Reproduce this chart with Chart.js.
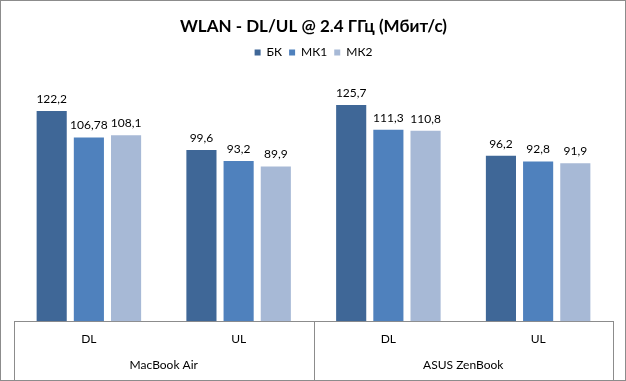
<!DOCTYPE html>
<html>
<head>
<meta charset="utf-8">
<script src="https://cdn.jsdelivr.net/npm/chart.js@4.4.0/dist/chart.umd.min.js"></script>
<style>
body { margin: 0; background: #fff; }
#wrap { width: 626px; height: 381px; box-sizing: border-box; border: 1px solid #8c8c8c; background: #fff; }
canvas { display: block; }
</style>
</head>
<body>
<div id="wrap"><canvas id="chart" width="624" height="379"></canvas></div>
<script>
var labels = ['DL', 'UL', 'DL', 'UL'];
var devices = ['MacBook Air', 'ASUS ZenBook'];
var seriesNames = ['БК', 'МК1', 'МК2'];
var bk = [122.2, 99.6, 125.7, 96.2];
var mk1 = [106.78, 93.2, 111.3, 92.8];
var mk2 = [108.1, 89.9, 110.8, 91.9];

// value labels above the bars
var valueLabels = {
    id: 'valueLabels',
    afterDatasetsDraw: function (chart) {
        var ctx = chart.ctx;
        ctx.save();
        ctx.font = '12px Lato';
        ctx.fillStyle = '#000';
        ctx.textAlign = 'center';
        ctx.textBaseline = 'bottom';
        chart.data.datasets.forEach(function (ds, i) {
            chart.getDatasetMeta(i).data.forEach(function (bar, j) {
                ctx.fillText(String(ds.data[j]).replace('.', ','), bar.x, bar.y - 6);
            });
        });
        ctx.restore();
    }
};

// vertical separators between device groups
var separators = {
    id: 'separators',
    afterDraw: function (chart) {
        var xs = chart.scales.x;
        var step = (xs.right - xs.left) / labels.length;
        var ctx = chart.ctx;
        ctx.save();
        ctx.strokeStyle = '#8c8c8c';
        ctx.lineWidth = 1;
        [0, 2, 4].forEach(function (k) {
            var x = Math.round(xs.left + k * step) + 0.5;
            ctx.beginPath();
            ctx.moveTo(x, chart.chartArea.bottom);
            ctx.lineTo(x, chart.height);
            ctx.stroke();
        });
        ctx.restore();
    }
};

var ctx1 = document.getElementById('chart').getContext('2d');
var chart1 = new Chart(ctx1, {
    type: 'bar',
    data: {
        labels: labels,
        datasets: [
            { label: seriesNames[0], data: bk, backgroundColor: '#3f6797' },
            { label: seriesNames[1], data: mk1, backgroundColor: '#4f81bd' },
            { label: seriesNames[2], data: mk2, backgroundColor: '#a7b9d6' }
        ]
    },
    options: {
        responsive: false,
        animation: false,
        devicePixelRatio: 1,
        categoryPercentage: 0.745,
        barPercentage: 0.81,
        layout: { padding: { left: 13, right: 12, top: 0, bottom: 8 } },
        plugins: {
            title: {
                display: true,
                text: 'WLAN - DL/UL @ 2.4 ГГц (Мбит/с)',
                color: '#000',
                font: { family: 'Lato', size: 17, weight: 'bold' },
                padding: { top: 15, bottom: 3 }
            },
            legend: {
                labels: {
                    boxWidth: 6,
                    boxHeight: 6,
                    padding: 7,
                    color: '#000',
                    font: { family: 'Lato', size: 12 }
                }
            },
            tooltip: { enabled: false }
        },
        scales: {
            x: {
                grid: { display: false, drawTicks: false },
                border: { display: true, color: '#8c8c8c' },
                ticks: { color: '#000', padding: 11, font: { family: 'Lato', size: 12 } }
            },
            x2: {
                type: 'category',
                labels: devices,
                position: 'bottom',
                offset: true,
                grid: { display: false, drawTicks: false },
                border: { display: false },
                ticks: { color: '#000', padding: 0, font: { family: 'Lato', size: 12 } }
            },
            y: {
                display: false,
                min: 0,
                max: 147
            }
        }
    },
    plugins: [valueLabels, separators]
});
</script>
</body>
</html>
